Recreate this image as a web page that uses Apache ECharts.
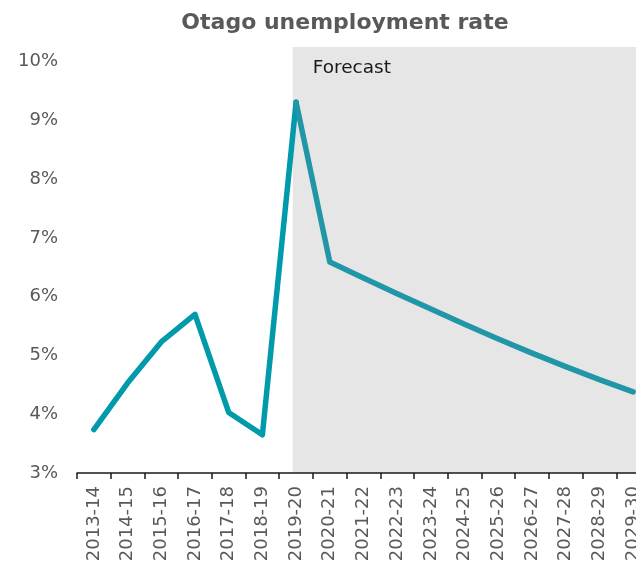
<!DOCTYPE html>
<html>
<head>
<meta charset="utf-8">
<script src="https://cdn.jsdelivr.net/npm/echarts@6/dist/echarts.min.js"></script>
<style>
  html, body { margin: 0; padding: 0; background: #fff; overflow: hidden; }
  #chart { width: 650px; height: 571px; }
</style>
</head>
<body>
<div id="chart"></div>
<script>
// categories (financial years)
const years = ['2013-14', '2014-15', '2015-16', '2016-17', '2017-18', '2018-19', '2019-20',
  '2020-21', '2021-22', '2022-23', '2023-24', '2024-25', '2025-26', '2026-27', '2027-28', '2028-29', '2029-30']

// actual rate, %
const actual = [3.74, 4.53, 5.23, 5.70, 4.03, 3.65, 9.31]
// forecast rate, %
const forecast = [null, null, null, null, null, null, 9.31,
  6.59, 6.32, 6.05, 5.79, 5.53, 5.28, 5.04, 4.81, 4.59, 4.38]

// forecast shading starts a little before the 2019-20 point
const forecastStart = 6.4
const yTicks = [3, 4, 5, 6, 7, 8, 9, 10]

const chart = echarts.init(document.getElementById('chart'))

const font = 'DejaVu Sans, Verdana, sans-serif'

chart.setOption({
  animation: false,
  title: {
    text: 'Otago unemployment rate',
    left: 340,
    top: 7,
    textAlign: 'center',
    textStyle: { fontFamily: font, fontSize: 22, fontWeight: 'bold', color: '#595959' }
  },
  grid: { left: 77, right: 0, top: 47, bottom: 98 },
  xAxis: [
    {
      type: 'category',
      data: years,
      boundaryGap: true,
      z: 10,
      axisLine: { lineStyle: { color: '#1a1a1a', width: 1.5 } },
      axisTick: { show: true, length: 6, lineStyle: { color: '#1a1a1a', width: 1.5 } },
      axisLabel: {
        rotate: 90,
        interval: 0,
        margin: 13,
        fontFamily: font,
        fontSize: 18,
        color: '#595959'
      }
    },
    {
      type: 'value',
      min: 0,
      max: years.length,
      show: false
    }
  ],
  yAxis: {
    type: 'value',
    min: yTicks[0],
    max: 10.25,
    interval: 1,
    axisLine: { show: false },
    axisTick: { show: false },
    splitLine: { show: false },
    axisLabel: {
      margin: 19,
      fontFamily: font,
      fontSize: 18,
      color: '#595959',
      formatter: v => yTicks.includes(v) ? v + '%' : ''
    }
  },
  series: [
    {
      name: 'Forecast area',
      type: 'line',
      xAxisIndex: 1,
      data: [],
      silent: true,
      z: 1,
      markArea: {
        silent: true,
        itemStyle: { color: '#e6e6e6' },
        label: {
          show: true,
          position: 'insideTopLeft',
          distance: 0,
          padding: [12, 0, 0, 20],
          fontFamily: font,
          fontSize: 18.5,
          color: '#1a1a1a'
        },
        data: [[
          { name: 'Forecast', xAxis: forecastStart, yAxis: yTicks[0] },
          { xAxis: years.length, yAxis: 10.25 }
        ]]
      }
    },
    {
      name: 'Actual',
      type: 'line',
      data: actual,
      showSymbol: false,
      z: 3,
      lineStyle: { color: '#009aaa', width: 5.5, cap: 'round', join: 'round' }
    },
    {
      name: 'Forecast',
      type: 'line',
      data: forecast,
      showSymbol: false,
      z: 4,
      lineStyle: { color: '#2196a6', width: 5.5, cap: 'round', join: 'round' }
    }
  ]
})
</script>
</body>
</html>
